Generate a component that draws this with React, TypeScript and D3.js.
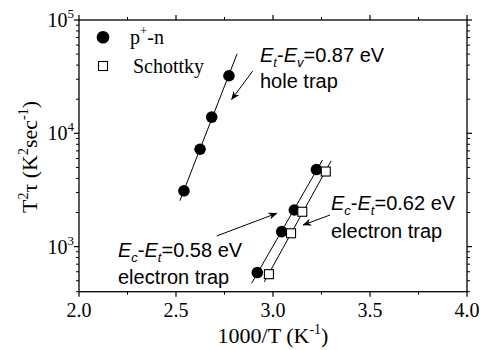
import React from "react";
import * as d3 from "d3";

// ---- data ----
const pnX = [2.541, 2.624, 2.684, 2.773];
const pnY = [3110, 7230, 13900, 32200];
const lowFilledX = [2.919, 3.045, 3.110, 3.224];
const lowFilledY = [590, 1355, 2105, 4790];
const schX = [2.979, 3.093, 3.151, 3.272];
const schY = [571, 1312, 2030, 4600];
// fitted-line x extents
const pnFitRange = [2.52, 2.815];
const lowFitRange = [2.89, 3.255];
const schFitRange = [2.955, 3.3];

const xTicks = [2.0, 2.5, 3.0, 3.5, 4.0];
const xMinor = [2.25, 2.75, 3.25, 3.75];
const yMajor = [1e3, 1e4, 1e5];
const yExp = ["3", "4", "5"];

const W = 480, H = 350;
const L = 79, R = 467, T = 20, B = 291.7;

const x = d3.scaleLinear().domain([2, 4]).range([L, R]);
const y = d3.scaleLog().domain([400, 1e5]).range([B, T]);

function fit(xs: number[], ys: number[]) {
  const ly = ys.map((v) => Math.log10(v));
  const mx = d3.mean(xs)!, my = d3.mean(ly)!;
  let num = 0, den = 0;
  xs.forEach((xv, i) => { num += (xv - mx) * (ly[i] - my); den += (xv - mx) ** 2; });
  const s = num / den;
  return (xv: number) => Math.pow(10, my + s * (xv - mx));
}

const serif = "'Liberation Serif','Times New Roman',Times,serif";
const sans = "'Liberation Sans',Arial,Helvetica,sans-serif";

function FitLine({ xs, ys, range }: { xs: number[]; ys: number[]; range: number[] }) {
  const f = fit(xs, ys);
  const line = d3.line<number>().x((d) => x(d)).y((d) => y(f(d)));
  return <path d={line(range) || ""} stroke="#000" strokeWidth={1} fill="none" />;
}

// minor y ticks
const yMinor: number[] = [];
for (let e = 2; e <= 4; e++) {
  for (let m = 2; m <= 9; m++) {
    const v = m * Math.pow(10, e);
    if (v >= 400 && v < 1e5) yMinor.push(v);
  }
}

const arrows = [
  { x1: 2.895, y1: 35400, x2: 2.787, y2: 19930 },
  { x1: 3.294, y1: 1901, x2: 3.156, y2: 1553 },
  { x1: 2.71, y1: 1242, x2: 3.019, y2: 1967 },
];

export default function App() {
  return (
    <svg width={W} height={H} style={{ position: "absolute", left: 0, top: 0, background: "#fff" }}>
      <defs>
        <marker id="ah" viewBox="0 0 10 10" refX="9" refY="5" markerWidth="9" markerHeight="9" markerUnits="userSpaceOnUse" orient="auto">
          <path d="M0,1 L10,5 L0,9 L3,5 Z" fill="#000" />
        </marker>
      </defs>
      {/* frame */}
      <rect x={L} y={T} width={R - L} height={B - T} fill="none" stroke="#000" strokeWidth={1.3} />
      {/* x ticks */}
      {xTicks.map((t) => (
        <g key={"xt" + t}>
          <line x1={x(t)} x2={x(t)} y1={B} y2={B + 5} stroke="#000" strokeWidth={1.2} />
          <line x1={x(t)} x2={x(t)} y1={T} y2={T - 5} stroke="#000" strokeWidth={1.2} />
          <text x={x(t)} y={317} textAnchor="middle" fontFamily={serif} fontSize={20}>{t.toFixed(1)}</text>
        </g>
      ))}
      {xMinor.map((t) => (
        <g key={"xm" + t}>
          <line x1={x(t)} x2={x(t)} y1={B} y2={B + 3} stroke="#000" strokeWidth={1} />
          <line x1={x(t)} x2={x(t)} y1={T} y2={T - 3} stroke="#000" strokeWidth={1} />
        </g>
      ))}
      {/* y ticks */}
      {yMajor.map((t, i) => (
        <g key={"yt" + t}>
          <line x1={L} x2={L - 5} y1={y(t)} y2={y(t)} stroke="#000" strokeWidth={1.2} />
          <line x1={R} x2={R + 5} y1={y(t)} y2={y(t)} stroke="#000" strokeWidth={1.2} />
          <text x={74} y={y(t) + 7} textAnchor="end" fontFamily={serif} fontSize={20}>
            10<tspan fontSize={13} dy={-9}>{yExp[i]}</tspan>
          </text>
        </g>
      ))}
      {yMinor.map((t) => (
        <g key={"ym" + t}>
          <line x1={L} x2={L - 3} y1={y(t)} y2={y(t)} stroke="#000" strokeWidth={1} />
          <line x1={R} x2={R + 3} y1={y(t)} y2={y(t)} stroke="#000" strokeWidth={1} />
        </g>
      ))}
      {/* axis titles */}
      <text x={273} y={343} textAnchor="middle" fontFamily={serif} fontSize={22}>
        1000/T (K<tspan fontSize={14} dy={-9}>-1</tspan><tspan dy={9}>)</tspan>
      </text>
      <text transform="translate(37,157) rotate(-90)" textAnchor="middle" fontFamily={serif} fontSize={22}>
        T<tspan fontSize={14} dy={-9}>2</tspan><tspan dy={9}>τ (K</tspan><tspan fontSize={14} dy={-9}>2</tspan><tspan dy={9}>sec</tspan><tspan fontSize={14} dy={-9}>-1</tspan><tspan dy={9}>)</tspan>
      </text>
      {/* fit lines */}
      <FitLine xs={pnX} ys={pnY} range={pnFitRange} />
      <FitLine xs={lowFilledX} ys={lowFilledY} range={lowFitRange} />
      <FitLine xs={schX} ys={schY} range={schFitRange} />
      {/* markers */}
      {pnX.map((v, i) => <circle key={"p" + i} cx={x(v)} cy={y(pnY[i])} r={5.8} fill="#000" />)}
      {lowFilledX.map((v, i) => <circle key={"l" + i} cx={x(v)} cy={y(lowFilledY[i])} r={5.8} fill="#000" />)}
      {schX.map((v, i) => (
        <rect key={"s" + i} x={x(v) - 4.5} y={y(schY[i]) - 4.5} width={9} height={9} fill="#fff" stroke="#000" strokeWidth={1.1} />
      ))}
      {/* legend */}
      <circle cx={103} cy={37.3} r={6.3} fill="#000" />
      <text x={130} y={44} fontFamily={serif} fontSize={20}>
        p<tspan fontSize={13} dy={-9}>+</tspan><tspan dy={9}>-n</tspan>
      </text>
      <rect x={98.5} y={61.5} width={9} height={9} fill="#fff" stroke="#000" strokeWidth={1.1} />
      <text x={133} y={73} fontFamily={serif} fontSize={20}>Schottky</text>
      {/* arrows */}
      {arrows.map((a, i) => (
        <line key={"a" + i} x1={x(a.x1)} y1={y(a.y1)} x2={x(a.x2)} y2={y(a.y2)} stroke="#000" strokeWidth={1} markerEnd="url(#ah)" />
      ))}
      {/* annotations */}
      <g fontFamily={sans} fontSize={20}>
        <text x={260} y={62}>
          <tspan fontStyle="italic">E</tspan><tspan fontStyle="italic" fontSize={13} dy={5}>t</tspan><tspan dy={-5}>-</tspan><tspan fontStyle="italic">E</tspan><tspan fontStyle="italic" fontSize={13} dy={5}>v</tspan><tspan dy={-5}>=0.87 eV</tspan>
        </text>
        <text x={260} y={88}>hole trap</text>
        <text x={331} y={210}>
          <tspan fontStyle="italic">E</tspan><tspan fontStyle="italic" fontSize={13} dy={5}>c</tspan><tspan dy={-5}>-</tspan><tspan fontStyle="italic">E</tspan><tspan fontStyle="italic" fontSize={13} dy={5}>t</tspan><tspan dy={-5}>=0.62 eV</tspan>
        </text>
        <text x={331} y={238}>electron trap</text>
        <text x={118} y={256.5}>
          <tspan fontStyle="italic">E</tspan><tspan fontStyle="italic" fontSize={13} dy={5}>c</tspan><tspan dy={-5}>-</tspan><tspan fontStyle="italic">E</tspan><tspan fontStyle="italic" fontSize={13} dy={5}>t</tspan><tspan dy={-5}>=0.58 eV</tspan>
        </text>
        <text x={118} y={284}>electron trap</text>
      </g>
    </svg>
  );
}
